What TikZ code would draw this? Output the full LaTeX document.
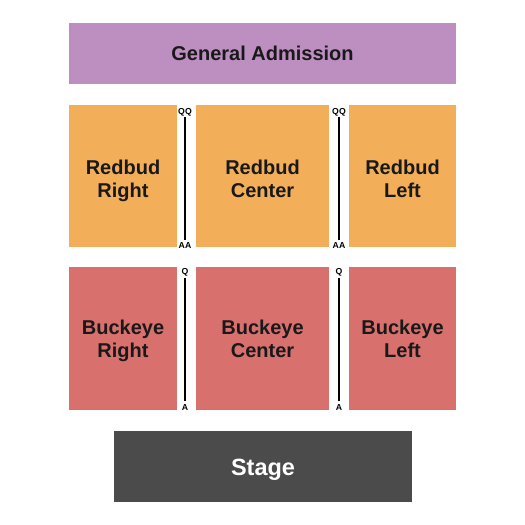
\documentclass[tikz,border=0pt]{standalone}
\usepackage{fontspec}
\setmainfont{Liberation Sans}
\definecolor{gapurple}{HTML}{BD8FC1}
\definecolor{redbudorange}{HTML}{F3AE5A}
\definecolor{buckeyered}{HTML}{D8706E}
\definecolor{stagegray}{HTML}{4B4B4B}
\tikzset{
  section/.style={rectangle,inner sep=0pt,align=center,
    font=\fontsize{20}{23}\selectfont\bfseries,text=black!90,
    text height=37.4pt,text depth=0pt},
  oneline/.style={text height=14.4pt},
  rowlabel/.style={inner sep=0pt,font=\fontsize{8.7}{9}\selectfont\bfseries,
    text height=6.2pt,text depth=0pt},
  aisle/.style={line width=1.4pt}
}
\begin{document}
\begin{tikzpicture}[x=1pt,y=-1pt]
\useasboundingbox (0,0) rectangle (525,525);

% sections
\node[section,oneline,fill=gapurple,minimum width=387,minimum height=61] (GA) at (262.5,53.5) {General Admission};

\node[section,text height=42.4pt,fill=redbudorange,minimum width=108,minimum height=142] (RR) at (123,176) {Redbud\\Right};
\node[section,text height=42.4pt,fill=redbudorange,minimum width=133,minimum height=142] (RC) at (262.5,176) {Redbud\\Center};
\node[section,text height=42.4pt,fill=redbudorange,minimum width=107,minimum height=142] (RL) at (402.5,176) {Redbud\\Left};

\node[section,fill=buckeyered,minimum width=108,minimum height=143] (BR) at (123,338.5) {Buckeye\\Right};
\node[section,fill=buckeyered,minimum width=133,minimum height=143] (BC) at (262.5,338.5) {Buckeye\\Center};
\node[section,fill=buckeyered,minimum width=107,minimum height=143] (BL) at (402.5,338.5) {Buckeye\\Left};

\node[section,oneline,fill=stagegray,text=white,minimum width=298,minimum height=71,
  font=\fontsize{23.5}{28}\selectfont\bfseries,text height=17pt] (ST) at (263,466.5) {Stage};

% aisles
\node[rowlabel] (QQ1) at (185,111) {QQ};
\node[rowlabel] (AA1) at (185,245.5) {AA};
\node[rowlabel] (QQ2) at (339,111) {QQ};
\node[rowlabel] (AA2) at (339,245.5) {AA};
\node[rowlabel] (Q1) at (185,271.5) {Q};
\node[rowlabel] (A1) at (185,407) {A};
\node[rowlabel] (Q2) at (339,271.5) {Q};
\node[rowlabel] (A2) at (339,407) {A};

\draw[aisle] ([yshift=-2.5]QQ1.south) -- ([yshift=2.5]AA1.north);
\draw[aisle] ([yshift=-2.5]QQ2.south) -- ([yshift=2.5]AA2.north);
\draw[aisle] ([yshift=-3]Q1.south) -- ([yshift=3]A1.north);
\draw[aisle] ([yshift=-3]Q2.south) -- ([yshift=3]A2.north);
\end{tikzpicture}
\end{document}
